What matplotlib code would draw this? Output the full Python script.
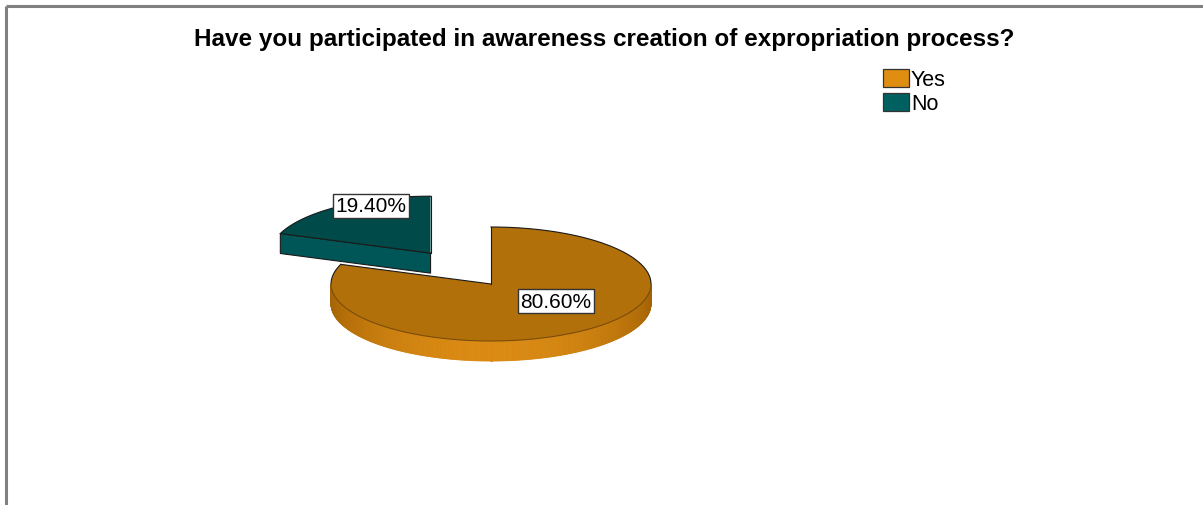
import numpy as np
import matplotlib
matplotlib.use("Agg")
import matplotlib.pyplot as plt
from matplotlib.patches import Polygon, Rectangle

# Survey answers and their shares (%)
categories = ["Yes", "No"]
shares = [80.6, 19.4]
labels = ["80.60%", "19.40%"]

title = "Have you participated in awareness creation of expropriation process?"

# colours: top face, side face (dark, light), legend swatch
top_colors = ["#b2700a", "#004a4a"]
side_dark = ["#a26205", "#005353"]
side_light = ["#da8a12", "#005656"]
rim_colors = ["#7a4c08", "#1a1a1a"]
legend_colors = ["#e08e12", "#006060"]

W, H = 1203, 506
fig = plt.figure(figsize=(W / 100, H / 100), dpi=100)
ax = fig.add_axes([0, 0, 1, 1])
ax.set_xlim(0, W)
ax.set_ylim(H, 0)
ax.axis("off")

# frame lines (top and left)
ax.plot([5.5, W], [6.5, 6.5], color="#808080", lw=2.2, solid_capstyle="butt")
ax.plot([5.5, 5.5], [6.5, H], color="#808080", lw=2.2, solid_capstyle="butt")

ax.text(604, 39, title, ha="center", va="center", fontsize=17.5,
        fontweight="bold", family="Liberation Sans", color="black")

# pie geometry in pixel units
cx, cy = 491.0, 285.0
rx, ry = 160.0, 57.0
depth = 20.0
explode = [0.0, 0.66]
start = 90.0
edge = "#1a1a1a"


def rim(c, t):
    t = np.atleast_1d(t)
    return np.column_stack([c[0] + rx * np.cos(np.radians(t)),
                            c[1] - ry * np.sin(np.radians(t))])


# slice angle ranges, drawn clockwise from 12 o'clock
angles = []
a0 = start
for s in shares:
    a1 = a0 - s / 100 * 360
    angles.append((a1, a0))
    a0 = a1

centers = []
for (a1, a0), e in zip(angles, explode):
    mid = np.radians((a0 + a1) / 2)
    centers.append((cx + e * rx * np.cos(mid), cy - e * ry * np.sin(mid)))


def mix(c1, c2, f):
    c1 = np.array(matplotlib.colors.to_rgb(c1))
    c2 = np.array(matplotlib.colors.to_rgb(c2))
    return tuple(c1 + (c2 - c1) * f)


# draw the exploded (back) slice first, then the main one
for i in [1, 0]:
    lo, hi = angles[i]
    c = centers[i]
    # outer curved side: visible where the rim faces the viewer (180..360)
    for k in range(-1, 2):
        s_lo = max(lo, 180 + 360 * k)
        s_hi = min(hi, 360 + 360 * k)
        if s_hi <= s_lo:
            continue
        ts = np.linspace(s_lo, s_hi, int((s_hi - s_lo) * 2) + 2)
        for j in range(len(ts) - 1):
            top = rim(c, [ts[j], ts[j + 1]])
            bot = top + [0, depth]
            phase = np.sin(np.radians(0.5 * (ts[j] + ts[j + 1]) - 360 * k - 180))
            f = max(phase, 0) ** 1.3
            col = mix(side_dark[i], side_light[i], f)
            ax.add_patch(Polygon(np.vstack([top, bot[::-1]]), closed=True,
                                 facecolor=col, edgecolor=col, lw=0.6))
    # cut faces that turn toward the viewer
    for tt, sign in ((lo, -1), (hi, 1)):
        normal = np.radians(tt + sign * 90)
        if np.sin(normal) < -1e-6:
            p = rim(c, tt)[0]
            quad = np.array([c, p, p + [0, depth], (c[0], c[1] + depth)])
            ax.add_patch(Polygon(quad, closed=True, facecolor=side_light[i],
                                 edgecolor=edge, lw=0.8))
    # top face
    ts = np.linspace(lo, hi, 400)
    pts = np.vstack([[c], rim(c, ts)])
    ax.add_patch(Polygon(pts, closed=True, facecolor=top_colors[i],
                         edgecolor="none"))
    # outline: radial edges and back arc dark, front arc softer
    for tt in (lo, hi):
        p = rim(c, tt)[0]
        ax.plot([c[0], p[0]], [c[1], p[1]], color=edge, lw=0.8)
    arc = rim(c, ts)
    front = np.sin(np.radians(ts)) < 0
    back_arc = np.where(front[:, None], np.nan, arc)
    front_arc = np.where(front[:, None], arc, np.nan)
    ax.plot(back_arc[:, 0], back_arc[:, 1], color=edge, lw=0.8)
    ax.plot(front_arc[:, 0], front_arc[:, 1], color=rim_colors[i], lw=0.8)

# value labels in boxed text
label_pos = [(556, 302), (371, 207)]
for (x, y), lab in zip(label_pos, labels):
    ax.text(x, y, lab, ha="center", va="center", fontsize=15,
            family="Liberation Sans", color="black",
            bbox=dict(boxstyle="square,pad=0.12", facecolor="white",
                      edgecolor="#333333", lw=1.0))

# legend
for j, (name, col) in enumerate(zip(categories, legend_colors)):
    y0 = 70 + j * 24
    ax.add_patch(Rectangle((883, y0), 26, 18, facecolor=col,
                           edgecolor="#333333", lw=0.9))
    ax.text(911, y0 + 10, name, ha="left", va="center", fontsize=15.5,
            family="Liberation Sans", color="black")

fig.savefig("out.png", dpi=100)
